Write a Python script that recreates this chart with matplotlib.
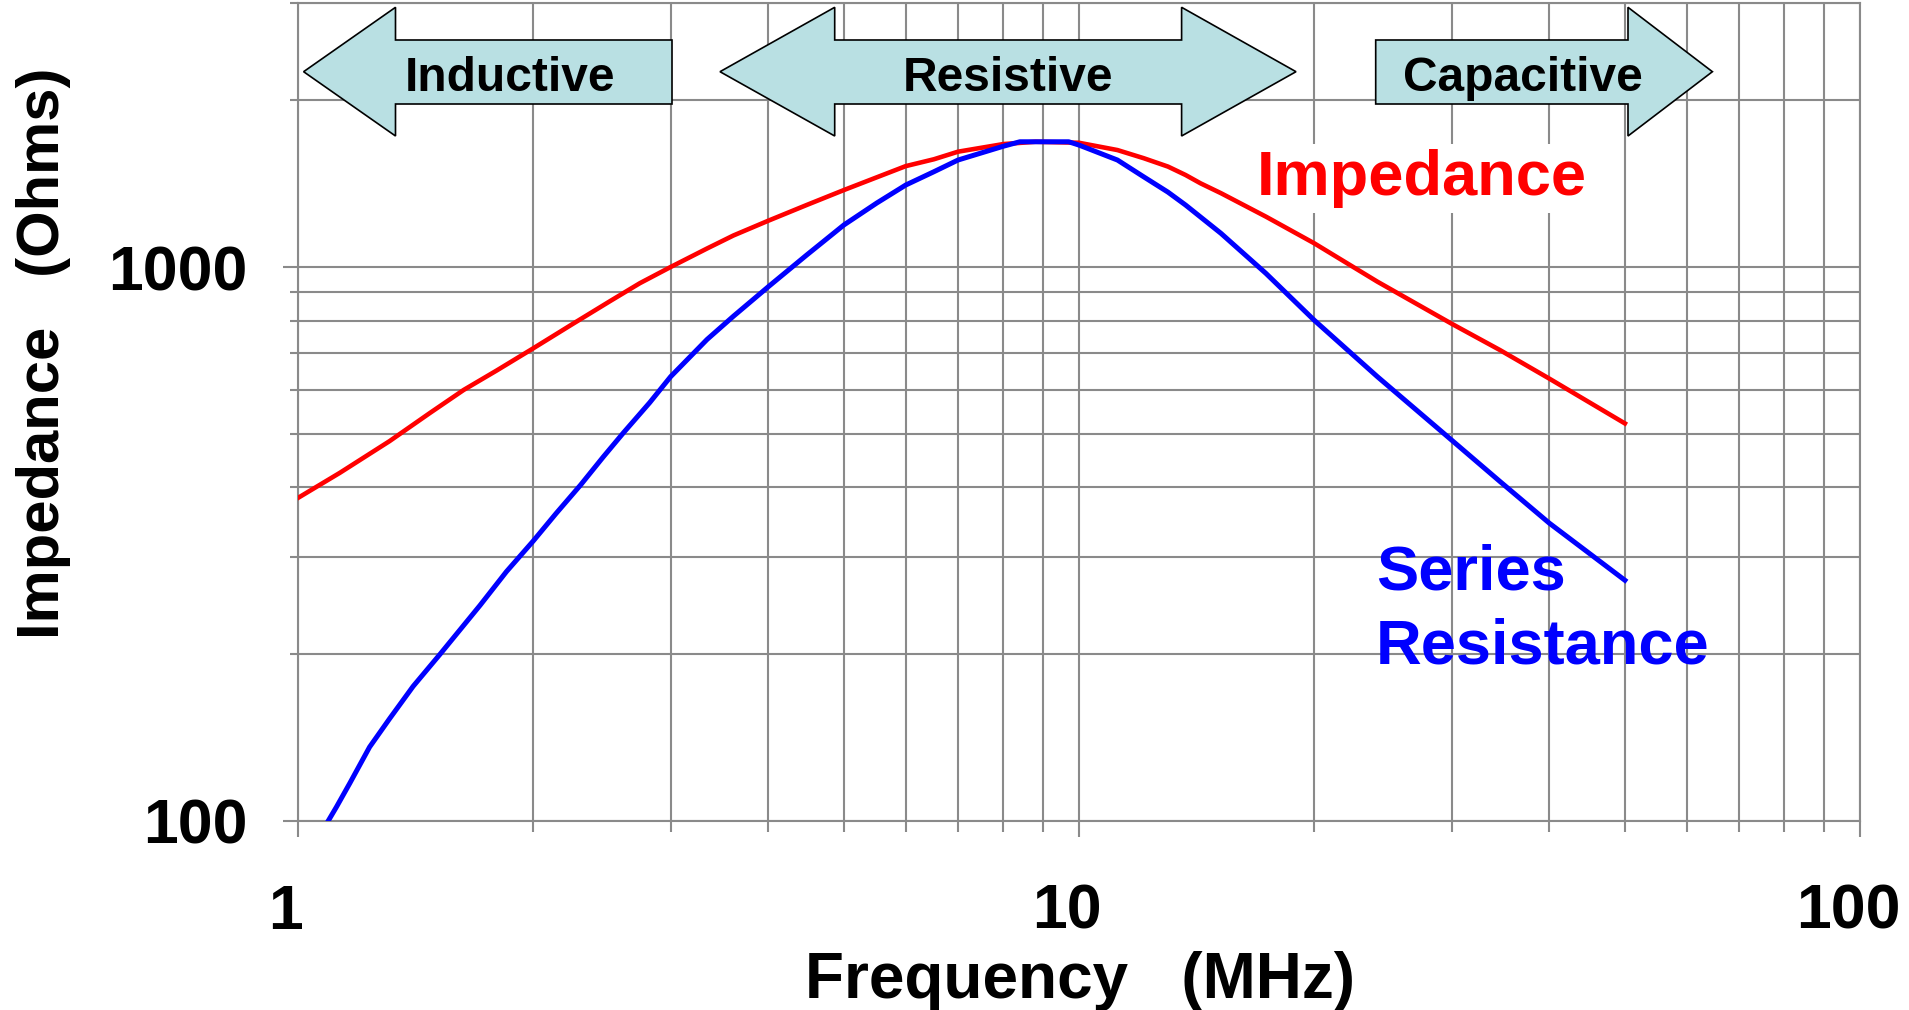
"""
Impedance and series resistance of a ferrite bead versus frequency,
with the inductive / resistive / capacitive regions marked on top.
"""
import matplotlib
matplotlib.use("Agg")
import matplotlib.pyplot as plt
from matplotlib.patches import Polygon
from matplotlib.ticker import FixedLocator, LogLocator, NullFormatter, FuncFormatter
from matplotlib.transforms import ScaledTranslation

# --- data (MHz, Ohms) ---
freq_z = [1.0, 1.131, 1.31, 1.475, 1.63, 1.795, 2.0, 2.25, 2.51, 2.74, 3.0, 3.34,
          3.61, 4.0, 4.48, 5.0, 5.51, 6.0, 6.52, 7.0, 8.0, 8.8, 10.0, 11.2, 12.1,
          13.0, 13.69, 14.31, 15.2, 17.35, 20.0, 24.1, 30.0, 34.6, 40.0, 50.0]
impedance = [383, 425, 485, 545, 600, 650, 713, 790, 868, 935, 1000, 1080,
             1140, 1212, 1294, 1377, 1452, 1521, 1565, 1615, 1667, 1683, 1676, 1626, 1572,
             1518, 1466, 1416, 1359, 1233, 1104, 941, 790, 708, 629, 522]

freq_r = [1.093, 1.12, 1.165, 1.235, 1.31, 1.404, 1.52, 1.71, 1.849, 2.0, 2.14,
          2.3, 2.459, 2.61, 2.82, 3.0, 3.34, 3.61, 4.0, 4.48, 5.0, 5.51, 6.0, 6.52,
          7.0, 8.0, 8.4, 9.7, 10.0, 11.2, 12.1, 13.0, 13.69, 15.2, 17.35, 20.0,
          24.1, 30.0, 34.6, 40.0, 50.0]
resistance = [100, 106, 117, 136, 153, 175, 200, 245, 282, 320, 359,
              404, 454, 502, 569, 634, 740, 815, 921, 1051, 1191, 1305, 1406, 1486,
              1560, 1652, 1683, 1683, 1660, 1560, 1455, 1365, 1294, 1150, 974, 802,
              634, 487, 410, 345, 272]

x_ticks = [1, 10, 100]
y_ticks = [100, 1000]
region_labels = ["Inductive", "Resistive", "Capacitive"]

# --- layout (pixels of the 1909x1010 canvas) ---
W, H, DPI = 1909, 1010, 100
GRID = "#8a8a8a"
ARROW_FILL = "#b9e0e3"


def fx(p):
    return p / W


def fy(p):
    return 1 - p / H


plt.rcParams["font.family"] = ["Liberation Sans", "DejaVu Sans"]
plt.rcParams["font.weight"] = "bold"

fig = plt.figure(figsize=(W / DPI, H / DPI), dpi=DPI)
ax = fig.add_axes([fx(298), fy(821), fx(1860) - fx(298), fy(2.7) - fy(821)])
ax.set_xscale("log")
ax.set_yscale("log")
ax.set_xlim(1, 100)
ax.set_ylim(100, 3000)

ax.plot(freq_z, impedance, color="#ff0000", lw=3.3, zorder=3)
ax.plot(freq_r, resistance, color="#0000ff", lw=3.6, zorder=3)

# grid everywhere, gray frame
ax.set_axisbelow(True)
ax.grid(which="both", color=GRID, lw=1.5)
for s in ax.spines.values():
    s.set_color(GRID)
    s.set_linewidth(1.5)

ax.xaxis.set_major_locator(FixedLocator(x_ticks))
ax.yaxis.set_major_locator(FixedLocator(y_ticks))
for axis in (ax.xaxis, ax.yaxis):
    axis.set_minor_locator(LogLocator(base=10, subs=range(2, 10), numticks=30))
    axis.set_minor_formatter(NullFormatter())
    axis.set_major_formatter(FuncFormatter(lambda v, _: f"{v:g}"))

ax.tick_params(axis="x", which="major", length=11.5, width=1.5, color=GRID,
               pad=33, labelsize=45)
ax.tick_params(axis="x", which="minor", length=8, width=1.5, color=GRID)
ax.tick_params(axis="y", which="major", length=11, width=1.5, color=GRID,
               pad=25.5, labelsize=45)
ax.tick_params(axis="y", which="minor", length=6, width=1.5, color=GRID)
# x tick labels sit a little left of their gridline in the original
shift = ScaledTranslation(-0.12, 0, fig.dpi_scale_trans)
for lbl in ax.get_xticklabels():
    lbl.set_transform(lbl.get_transform() + shift)

fig.text(fx(1080), fy(998), "Frequency   (MHz)", fontsize=46, ha="center",
         va="baseline")
fig.text(fx(44), fy(353), "Impedance   (Ohms)", fontsize=43, rotation=90,
         ha="center", va="center")

# curve labels (the impedance one blanks the grid behind it, lines stay on top)
ax.text(fx(1422), fy(195), "Impedance", fontsize=45.5, color="#ff0000",
        ha="center", va="baseline", transform=fig.transFigure, zorder=2.5,
        bbox=dict(boxstyle="square,pad=0.08", fc="white", ec="none"))
fig.text(fx(1376), fy(590), "Series", fontsize=45.5, color="#0000ff",
         ha="left", va="baseline")
fig.text(fx(1376), fy(663), "Resistance", fontsize=45.5, color="#0000ff",
         ha="left", va="baseline")

# region arrows
h_top, h_bot, b_top, b_bot, mid = 7.3, 136, 40, 104, 71.7


def arrow(pts, label, cx):
    poly = Polygon([(fx(x), fy(y)) for x, y in pts], closed=True,
                   transform=fig.transFigure, fc=ARROW_FILL, ec="black",
                   lw=1.2, zorder=4)
    fig.add_artist(poly)
    fig.text(fx(cx), fy(91), label, fontsize=34.5, ha="center", va="baseline",
             zorder=5)


tip, hb, end = 303.6, 395.5, 672
arrow([(tip, mid), (hb, h_top), (hb, b_top), (end, b_top), (end, b_bot),
       (hb, b_bot), (hb, h_bot)], region_labels[0], 510)

lt, lhb, rhb, rt = 720, 834.7, 1181.6, 1296
arrow([(lt, mid), (lhb, h_top), (lhb, b_top), (rhb, b_top), (rhb, h_top),
       (rt, mid), (rhb, h_bot), (rhb, b_bot), (lhb, b_bot), (lhb, h_bot)],
      region_labels[1], 1008)

start, hb, tip = 1375.7, 1628, 1712.4
arrow([(start, b_top), (hb, b_top), (hb, h_top), (tip, mid), (hb, h_bot),
       (hb, b_bot), (start, b_bot)], region_labels[2], 1523)

fig.savefig("out.png", dpi=DPI, facecolor="white")
